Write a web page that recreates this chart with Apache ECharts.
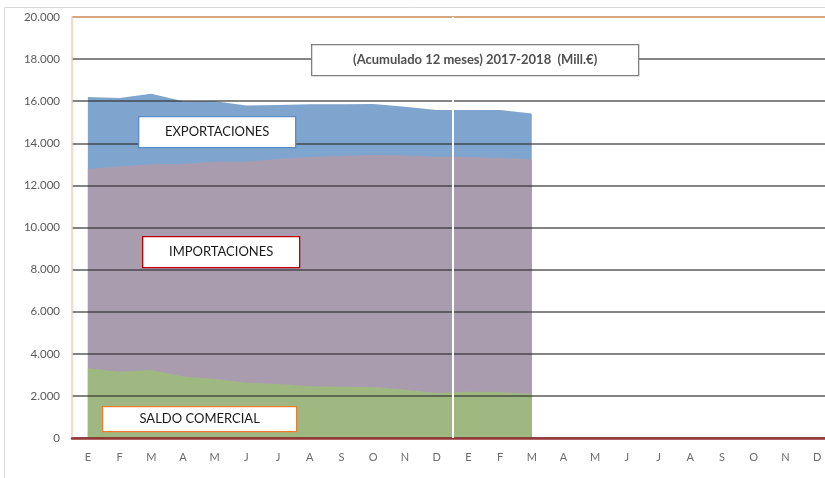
<!DOCTYPE html>
<html>
<head>
<meta charset="utf-8">
<script src="https://cdn.jsdelivr.net/npm/echarts@6/dist/echarts.min.js"></script>
<style>
  html, body { margin: 0; padding: 0; background: #fff; }
  #chart { width: 825px; height: 478px; }
</style>
</head>
<body>
<div id="chart"></div>
<script>
// meses 2017-2018 (24 meses, solo hay datos hasta marzo del segundo año)
const months = ['E', 'F', 'M', 'A', 'M', 'J', 'J', 'A', 'S', 'O', 'N', 'D',
  'E', 'F', 'M', 'A', 'M', 'J', 'J', 'A', 'S', 'O', 'N', 'D']
const exportaciones = [16200, 16150, 16350, 16000, 16000, 15800, 15820, 15850, 15850, 15870, 15740, 15580, 15580, 15580, 15420]
const importaciones = [12780, 12900, 13000, 13020, 13120, 13120, 13250, 13350, 13400, 13450, 13420, 13360, 13350, 13300, 13240]
const saldo = [3310, 3150, 3230, 2920, 2800, 2620, 2560, 2460, 2430, 2420, 2290, 2140, 2200, 2190, 2090]
const yTicks = [0, 2000, 4000, 6000, 8000, 10000, 12000, 14000, 16000, 18000, 20000]

const chart = echarts.init(document.getElementById('chart'))
const font = 'Lato, "Liberation Sans", sans-serif'

// color de cada linea de rejilla, la de arriba es el borde naranja
const gridColors = yTicks.map((v, i) => i === yTicks.length - 1 ? '#c98a55' : 'rgba(50,50,50,0.8)')

function box (x, y, w, h, border, text, bold) {
  return {
    type: 'group',
    left: x,
    top: y,
    children: [
      {
        type: 'rect',
        z: 100,
        shape: { x: 0, y: 0, width: w, height: h },
        style: { fill: '#fff', stroke: border, lineWidth: 1.3 }
      },
      {
        type: 'text',
        z: 101,
        x: w / 2,
        y: h / 2,
        style: {
          text: text,
          fill: bold ? '#505050' : '#1a1a1a',
          fontSize: 13,
          fontWeight: bold ? 'bold' : 'normal',
          fontFamily: font,
          align: 'center',
          verticalAlign: 'middle'
        }
      }
    ]
  }
}

const option = {
  animation: false,
  backgroundColor: '#fff',
  grid: { left: 72, top: 17, height: 421, width: 761, containLabel: false, outerBoundsMode: 'none' },
  xAxis: [
    {
      type: 'category',
      data: months,
      boundaryGap: true,
      z: 5,
      axisLine: { show: true, lineStyle: { color: '#943634', width: 2.5 } },
      axisTick: { show: false },
      axisLabel: { color: '#6b6b6b', fontSize: 11, fontFamily: font, margin: 14, interval: 0 },
      splitLine: { show: false }
    },
    {
      // eje auxiliar oculto solo para la linea blanca que separa los dos años
      type: 'value',
      min: 0,
      max: 24,
      interval: 12,
      show: true,
      z: 10,
      position: 'bottom',
      axisLine: { show: false },
      axisTick: { show: false },
      axisLabel: { show: false },
      splitLine: {
        show: true,
        lineStyle: { color: ['rgba(0,0,0,0)', '#ffffff', 'rgba(0,0,0,0)'], width: 2 }
      }
    }
  ],
  yAxis: {
    type: 'value',
    min: 0,
    max: 20000,
    interval: 2000,
    z: 3,
    axisLine: { show: true, lineStyle: { color: '#f8cbad', width: 1.5 } },
    axisTick: { show: false },
    axisLabel: {
      color: '#595959',
      fontSize: 11.5,
      fontFamily: font,
      margin: 12,
      formatter: (v) => v.toLocaleString('de-DE')
    },
    splitLine: { show: true, lineStyle: { color: gridColors, width: 1.5 } }
  },
  series: [
    {
      name: 'EXPORTACIONES',
      type: 'line',
      data: exportaciones,
      symbol: 'none',
      lineStyle: { width: 0 },
      areaStyle: { color: '#7fa5cf', opacity: 1 },
      z: 2
    },
    {
      name: 'IMPORTACIONES',
      type: 'line',
      data: importaciones,
      symbol: 'none',
      lineStyle: { width: 0 },
      areaStyle: { color: '#aa9caf', opacity: 1 },
      z: 2
    },
    {
      name: 'SALDO COMERCIAL',
      type: 'line',
      data: saldo,
      symbol: 'none',
      lineStyle: { width: 0 },
      areaStyle: { color: '#9fb881', opacity: 1 },
      z: 2
    }
  ],
  graphic: [
    {
      type: 'rect',
      left: 2,
      top: 5,
      z: -10,
      silent: true,
      shape: { width: 840, height: 490 },
      style: { fill: 'none', stroke: '#d9d9d9', lineWidth: 1 }
    },
    box(311, 44, 327, 31, '#7f7f7f', '(Acumulado 12 meses) 2017-2018  (Mill.€)', true),
    box(138, 116, 157, 31, '#5b8cc7', 'EXPORTACIONES', false),
    box(142, 236, 157, 31, '#c00000', 'IMPORTACIONES', false),
    box(102, 406, 194, 25, '#ed7d31', 'SALDO COMERCIAL', false)
  ]
}

chart.setOption(option)
</script>
</body>
</html>
